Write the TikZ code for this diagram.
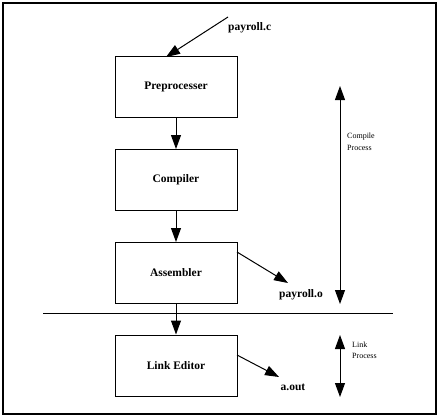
\documentclass[tikz,border=0pt]{standalone}
\usepackage{fontspec}
\setmainfont{Liberation Serif}
\usetikzlibrary{arrows.meta,calc}
\begin{document}
\begin{tikzpicture}[x=1pt,y=-1pt,
  stage/.style={draw,line width=1pt,minimum width=122pt,minimum height=61pt,inner sep=0pt,
    font=\fontsize{11.5}{13}\selectfont\bfseries},
  lbl/.style={inner sep=0pt,font=\fontsize{11.5}{13}\selectfont\bfseries},
  note/.style={inner sep=0pt,align=left,anchor=west,font=\fontsize{8}{12}\selectfont},
  arr/.style={line width=1pt,-{Triangle[length=14pt,width=10pt]}},
  arrtwo/.style={line width=1pt,{Triangle[length=14pt,width=10pt]}-{Triangle[length=14pt,width=10pt]}}]
\useasboundingbox (0,0) rectangle (439,418);
\draw[line width=2pt] (2.5,2.5) rectangle (436,414);
\node[stage] (pre) at (176,87) {Preprocesser};
\node[stage] (comp) at (176,180) {Compiler};
\node[stage] (asm) at (176,273) {Assembler};
\node[stage] (link) at (176,365.5) {Link Editor};
\node[lbl,anchor=west] (pc) at (228,28) {payroll.c};
\node[lbl] (po) at (301,295) {payroll.o};
\node[lbl] (ao) at (293,387) {a.out};
\node[note] (cp) at (347,142) {Compile\\Process};
\node[note,font=\fontsize{8}{11}\selectfont] (lp) at (352,350.5) {Link\\Process};
\coordinate (pcs) at (228,17);
\coordinate (pce) at (166,57);
\coordinate (ass) at (237,252);
\coordinate (ase) at (288,283);
\coordinate (lks) at (237,355);
\coordinate (lke) at (279,377);
\coordinate (hl) at (43,313);
\coordinate (hr) at (393,313);
\coordinate (ct) at (340,86);
\coordinate (cb) at (340,304);
\coordinate (lt) at (340,335);
\coordinate (lb) at (340,397);
\draw[arr] (pcs) -- (pce);
\draw[arr] (pre) -- (comp);
\draw[arr] (comp) -- (asm);
\draw[arr] (asm) -- (link);
\draw[arr] (ass) -- (ase);
\draw[arr] (lks) -- (lke);
\draw[line width=1pt] (hl) -- (hr);
\draw[arrtwo] (ct) -- (cb);
\draw[arrtwo] (lt) -- (lb);
\end{tikzpicture}
\end{document}
